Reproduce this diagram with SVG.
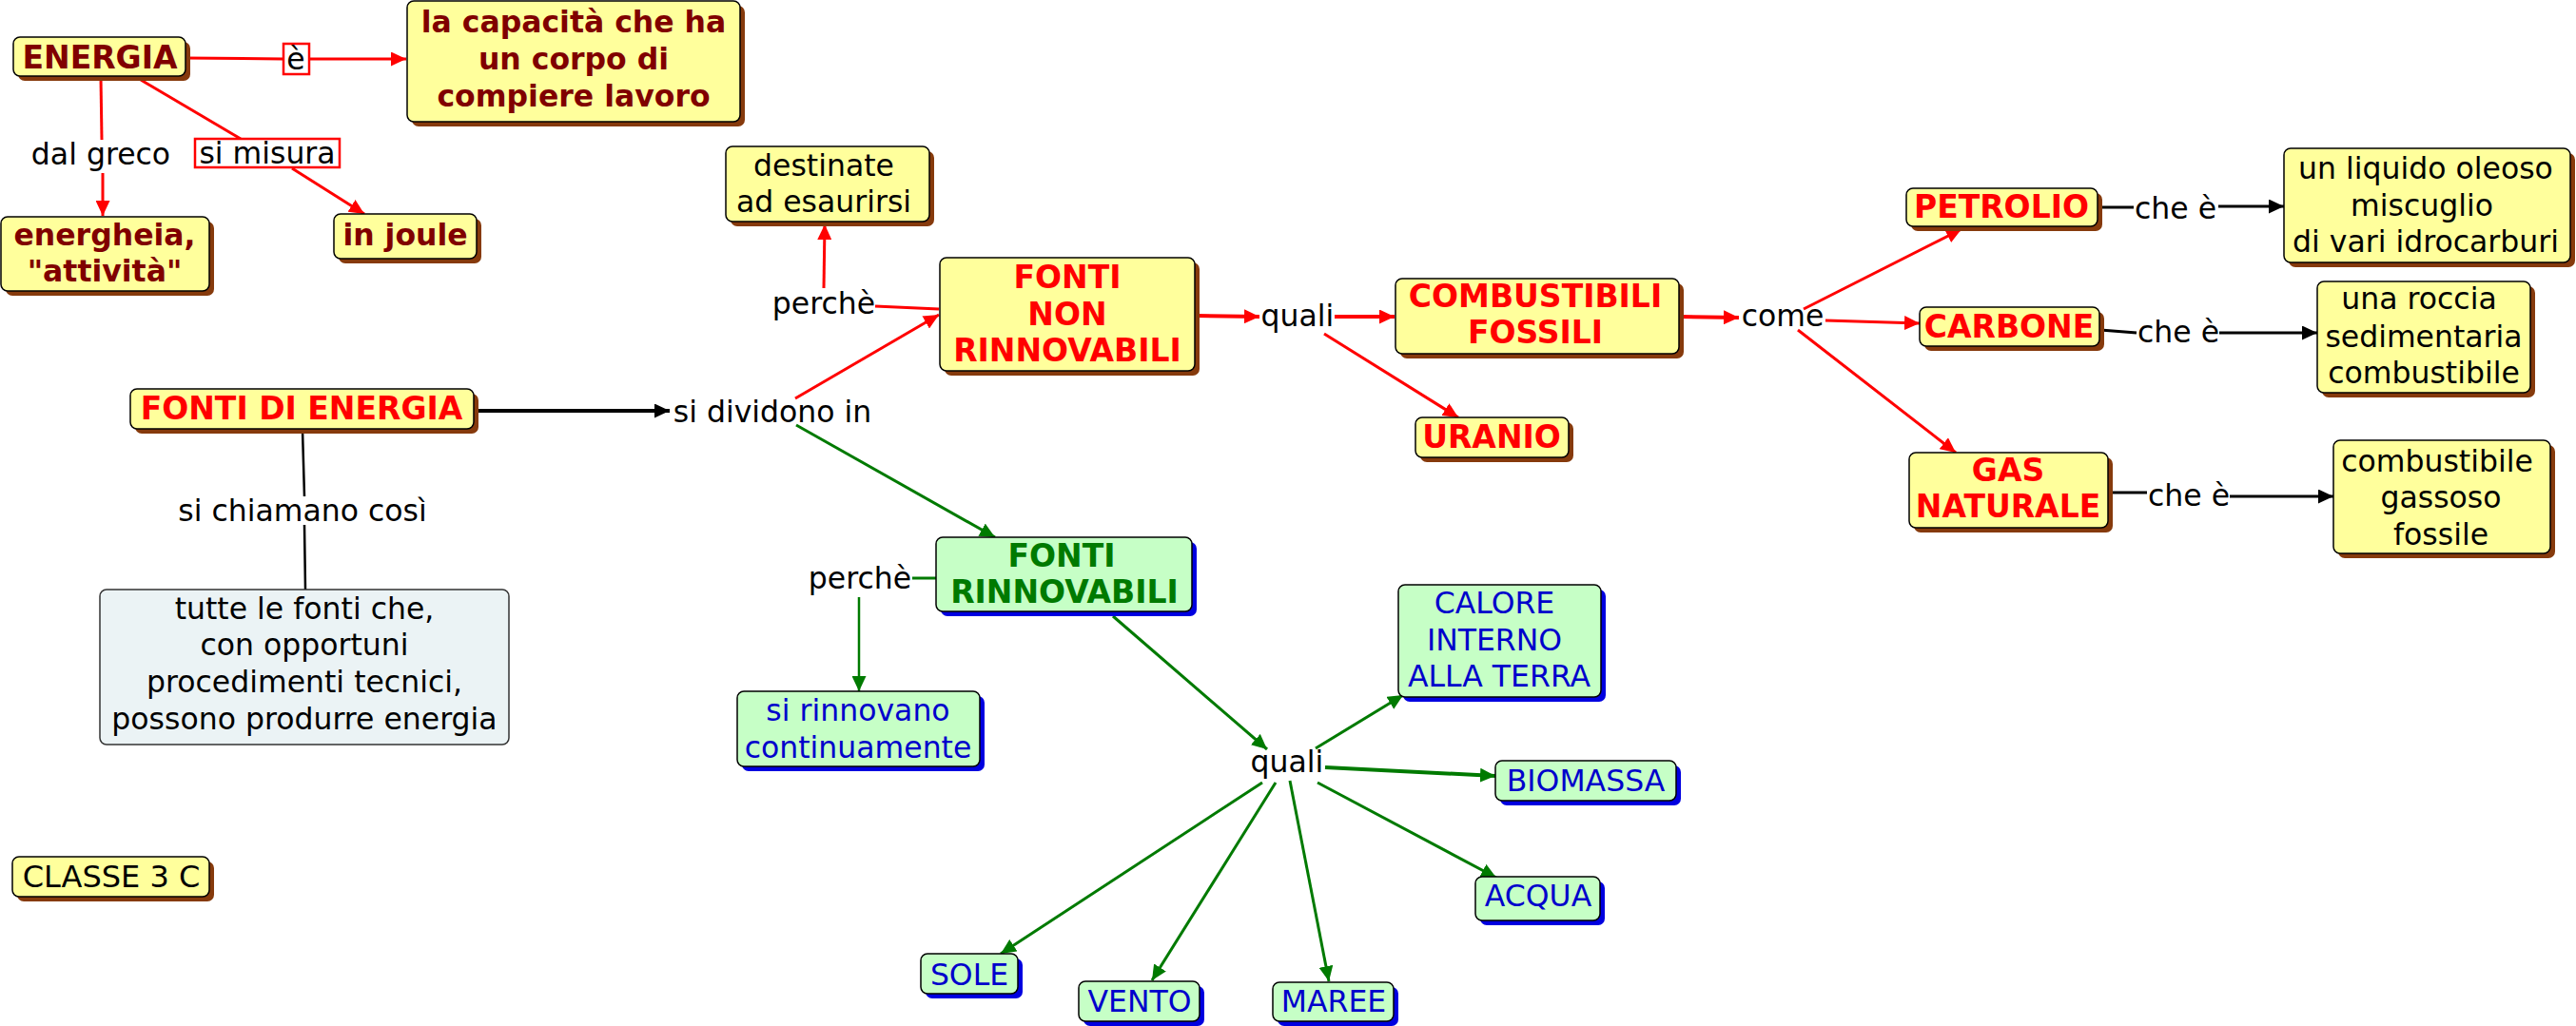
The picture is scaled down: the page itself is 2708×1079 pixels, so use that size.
<svg xmlns="http://www.w3.org/2000/svg" width="2708" height="1079" viewBox="0 0 2708 1079">
<style>
text{font-family:"DejaVu Sans",Verdana,sans-serif;text-anchor:middle;font-size:31.5px;fill:#000}
.b{font-weight:bold;font-size:33px}
.bl{font-weight:bold;font-size:31.5px}
.dr{fill:#800000}.rd{fill:#ff0000}.gr{fill:#007a00}.bu{fill:#0000cc}
.y{fill:#ffff9c;stroke:#000;stroke-width:1.5}
.ys{fill:#863a0c}
.g{fill:#c6ffc6;stroke:#000;stroke-width:1.5}
.gs{fill:#0000e0}
.gray{fill:#ebf3f5;stroke:#333;stroke-width:1.5}
.lb{fill:#fff;stroke:#ff0000;stroke-width:2.5}
.cr{stroke:#ff0000;stroke-width:3;fill:none}
.ck{stroke:#000;stroke-width:3;fill:none}
.cg{stroke:#007a00;stroke-width:3;fill:none}
.ar{marker-end:url(#mr)}.ak{marker-end:url(#mk)}.ag{marker-end:url(#mg)}
</style>
<defs>
<marker id="mr" markerUnits="userSpaceOnUse" markerWidth="17" markerHeight="15" refX="16" refY="7.5" orient="auto"><path d="M0,0L16,7.5L0,15z" fill="#ff0000"/></marker>
<marker id="mk" markerUnits="userSpaceOnUse" markerWidth="17" markerHeight="15" refX="16" refY="7.5" orient="auto"><path d="M0,0L16,7.5L0,15z" fill="#000"/></marker>
<marker id="mg" markerUnits="userSpaceOnUse" markerWidth="17" markerHeight="15" refX="16" refY="7.5" orient="auto"><path d="M0,0L16,7.5L0,15z" fill="#007a00"/></marker>
</defs>
<rect width="2708" height="1079" fill="#fff"/>
<g id="connectors">
<path class="cr" d="M195,61L298,62"/>
<path class="cr ar" d="M325,62L427,62"/>
<path class="cr" d="M106,82L107,147"/>
<path class="cr ar" d="M108,182L108,227"/>
<path class="cr" d="M148,84L253,146"/>
<path class="cr ar" d="M307,177L383,225"/>
<path class="cr" d="M987,325L920,322"/>
<path class="cr ar" d="M866,303L867,236"/>
<path class="cr ar" d="M836,419L987,331"/>
<path class="cr ar" style="stroke-width:4" d="M1257,332L1324,333"/>
<path class="cr ar" style="stroke-width:4" d="M1403,333L1466,333"/>
<path class="cr ar" d="M1392,351L1533,439"/>
<path class="cr ar" style="stroke-width:4" d="M1766,333L1828,334"/>
<path class="cr ar" d="M1896,325L2062,241"/>
<path class="cr ar" d="M1919,337L2018,340"/>
<path class="cr ar" d="M1890,347L2056,476"/>
<path class="ck ak" style="stroke-width:4" d="M499,432L704,432"/>
<path class="ck" style="stroke-width:2.5" d="M318,452L320,522M320,552L321,620"/>
<path class="ck" d="M2206,218L2243,218"/>
<path class="ck ak" d="M2332,217L2401,217"/>
<path class="ck" d="M2208,347L2246,350"/>
<path class="ck ak" d="M2333,350L2436,350"/>
<path class="ck" d="M2217,518L2257,518"/>
<path class="ck ak" d="M2344,522L2453,522"/>
<path class="cg ag" d="M837,447L1046,565"/>
<path class="cg" d="M984,608L959,608"/>
<path class="cg ag" style="stroke-width:2.5" d="M903,628L903,727"/>
<path class="cg ag" d="M1170,648L1332,788"/>
<path class="cg ag" d="M1383,787L1475,731"/>
<path class="cg ag" style="stroke-width:4" d="M1393,807L1572,816"/>
<path class="cg ag" d="M1385,823L1573,923"/>
<path class="cg ag" d="M1327,823L1052,1003"/>
<path class="cg ag" d="M1341,823L1211,1031"/>
<path class="cg ag" d="M1356,821L1397,1032"/>
</g>
<g id="n-energia"><rect class="ys" x="19" y="44" width="181" height="41" rx="7"/><rect class="y" x="14" y="39" width="181" height="41" rx="7"/><text class="b dr" x="105" y="72">ENERGIA</text></g>
<g id="l-e"><rect class="lb" x="298" y="46" width="27" height="32"/><text x="311" y="73">è</text></g>
<g id="n-capacita"><rect class="ys" x="433" y="6" width="350" height="127" rx="7"/><rect class="y" x="428" y="1" width="350" height="127" rx="7"/><text class="bl dr" x="603"><tspan x="603" y="34">la capacità che ha</tspan><tspan x="603" y="73">un corpo di</tspan><tspan x="603" y="112">compiere lavoro</tspan></text></g>
<g id="l-dalgreco"><text x="106" y="173">dal greco</text></g>
<g id="l-simisura"><rect class="lb" x="205" y="146" width="152" height="30"/><text x="281" y="172">si misura</text></g>
<g id="n-energheia"><rect class="ys" x="6" y="233" width="219" height="78" rx="7"/><rect class="y" x="1" y="228" width="219" height="78" rx="7"/><text class="bl dr"><tspan x="110" y="258">energheia,</tspan><tspan x="110" y="296">"attività"</tspan></text></g>
<g id="n-joule"><rect class="ys" x="356" y="230" width="150" height="47" rx="7"/><rect class="y" x="351" y="225" width="150" height="47" rx="7"/><text class="bl dr" x="426" y="258">in joule</text></g>
<g id="n-fonti"><rect class="ys" x="142" y="414" width="361" height="42" rx="7"/><rect class="y" x="137" y="409" width="361" height="42" rx="7"/><text class="b rd" x="317" y="441">FONTI DI ENERGIA</text></g>
<g id="l-chiamano"><text x="318" y="548">si chiamano così</text></g>
<g id="n-tutte"><rect class="gray" x="105" y="620" width="430" height="163" rx="7"/><text><tspan x="320" y="651">tutte le fonti che,</tspan><tspan x="320" y="689">con opportuni</tspan><tspan x="320" y="728">procedimenti tecnici,</tspan><tspan x="320" y="767">possono produrre energia</tspan></text></g>
<g id="l-dividono"><text x="812" y="444">si dividono in</text></g>
<g id="l-perche1"><text x="866" y="330">perchè</text></g>
<g id="n-destinate"><rect class="ys" x="768" y="159" width="214" height="79" rx="7"/><rect class="y" x="763" y="154" width="214" height="79" rx="7"/><text><tspan x="866" y="185">destinate</tspan><tspan x="866" y="223">ad esaurirsi</tspan></text></g>
<g id="n-nonrinn"><rect class="ys" x="993" y="276" width="268" height="119" rx="7"/><rect class="y" x="988" y="271" width="268" height="119" rx="7"/><text class="b rd"><tspan x="1122" y="303">FONTI</tspan><tspan x="1122" y="342">NON</tspan><tspan x="1122" y="380">RINNOVABILI</tspan></text></g>
<g id="l-quali1"><text x="1364" y="343">quali</text></g>
<g id="n-combustibili"><rect class="ys" x="1472" y="298" width="298" height="79" rx="7"/><rect class="y" x="1467" y="293" width="298" height="79" rx="7"/><text class="b rd"><tspan x="1614" y="323">COMBUSTIBILI</tspan><tspan x="1614" y="361">FOSSILI</tspan></text></g>
<g id="n-uranio"><rect class="ys" x="1493" y="444" width="161" height="42" rx="7"/><rect class="y" x="1488" y="439" width="161" height="42" rx="7"/><text class="b rd" x="1568" y="471">URANIO</text></g>
<g id="l-come"><text x="1874" y="343">come</text></g>
<g id="n-petrolio"><rect class="ys" x="2009" y="203" width="201" height="40" rx="7"/><rect class="y" x="2004" y="198" width="201" height="40" rx="7"/><text class="b rd" x="2104" y="229">PETROLIO</text></g>
<g id="n-carbone"><rect class="ys" x="2023" y="328" width="189" height="41" rx="7"/><rect class="y" x="2018" y="323" width="189" height="41" rx="7"/><text class="b rd" x="2112" y="355">CARBONE</text></g>
<g id="n-gas"><rect class="ys" x="2012" y="481" width="209" height="79" rx="7"/><rect class="y" x="2007" y="476" width="209" height="79" rx="7"/><text class="b rd"><tspan x="2111" y="506">GAS</tspan><tspan x="2111" y="544">NATURALE</tspan></text></g>
<g id="l-che1"><text x="2287" y="230">che è</text></g>
<g id="l-che2"><text x="2290" y="360">che è</text></g>
<g id="l-che3"><text x="2301" y="532">che è</text></g>
<g id="n-liquido"><rect class="ys" x="2406" y="161" width="301" height="120" rx="7"/><rect class="y" x="2401" y="156" width="301" height="120" rx="7"/><text><tspan x="2550" y="188">un liquido oleoso</tspan><tspan x="2546" y="227">miscuglio</tspan><tspan x="2550" y="265">di vari idrocarburi</tspan></text></g>
<g id="n-roccia"><rect class="ys" x="2441" y="301" width="224" height="117" rx="7"/><rect class="y" x="2436" y="296" width="224" height="117" rx="7"/><text><tspan x="2543" y="325">una roccia</tspan><tspan x="2548" y="365">sedimentaria</tspan><tspan x="2548" y="403">combustibile</tspan></text></g>
<g id="n-gassoso"><rect class="ys" x="2458" y="468" width="228" height="119" rx="7"/><rect class="y" x="2453" y="463" width="228" height="119" rx="7"/><text><tspan x="2562" y="496">combustibile</tspan><tspan x="2566" y="534">gassoso</tspan><tspan x="2566" y="573">fossile</tspan></text></g>
<g id="n-rinn"><rect class="gs" x="989" y="570" width="269" height="78" rx="7"/><rect class="g" x="984" y="565" width="269" height="78" rx="7"/><text class="b gr"><tspan x="1116" y="596">FONTI</tspan><tspan x="1119" y="634">RINNOVABILI</tspan></text></g>
<g id="l-perche2"><text x="904" y="619">perchè</text></g>
<g id="n-sirinnovano"><rect class="gs" x="780" y="732" width="255" height="79" rx="7"/><rect class="g" x="775" y="727" width="255" height="79" rx="7"/><text class="bu"><tspan x="902" y="758">si rinnovano</tspan><tspan x="902" y="797">continuamente</tspan></text></g>
<g id="l-quali2"><text x="1353" y="812">quali</text></g>
<g id="n-calore"><rect class="gs" x="1475" y="620" width="213" height="118" rx="7"/><rect class="g" x="1470" y="615" width="213" height="118" rx="7"/><text class="bu"><tspan x="1571" y="645">CALORE</tspan><tspan x="1571" y="684">INTERNO</tspan><tspan x="1576" y="722">ALLA TERRA</tspan></text></g>
<g id="n-biomassa"><rect class="gs" x="1577" y="805" width="190" height="42" rx="7"/><rect class="g" x="1572" y="800" width="190" height="42" rx="7"/><text class="bu" x="1667" y="832">BIOMASSA</text></g>
<g id="n-acqua"><rect class="gs" x="1556" y="927" width="131" height="46" rx="7"/><rect class="g" x="1551" y="922" width="131" height="46" rx="7"/><text class="bu" x="1617" y="953">ACQUA</text></g>
<g id="n-sole"><rect class="gs" x="973" y="1008" width="102" height="42" rx="7"/><rect class="g" x="968" y="1003" width="102" height="42" rx="7"/><text class="bu" x="1019" y="1036">SOLE</text></g>
<g id="n-vento"><rect class="gs" x="1139" y="1037" width="127" height="42" rx="7"/><rect class="g" x="1134" y="1032" width="127" height="42" rx="7"/><text class="bu" x="1198" y="1064">VENTO</text></g>
<g id="n-maree"><rect class="gs" x="1343" y="1038" width="127" height="41" rx="7"/><rect class="g" x="1338" y="1033" width="127" height="41" rx="7"/><text class="bu" x="1402" y="1064">MAREE</text></g>
<g id="n-classe"><rect class="ys" x="18" y="906" width="207" height="42" rx="7"/><rect class="y" x="13" y="901" width="207" height="42" rx="7"/><text x="117" y="933" style="font-size:32px">CLASSE 3 C</text></g>
</svg>
